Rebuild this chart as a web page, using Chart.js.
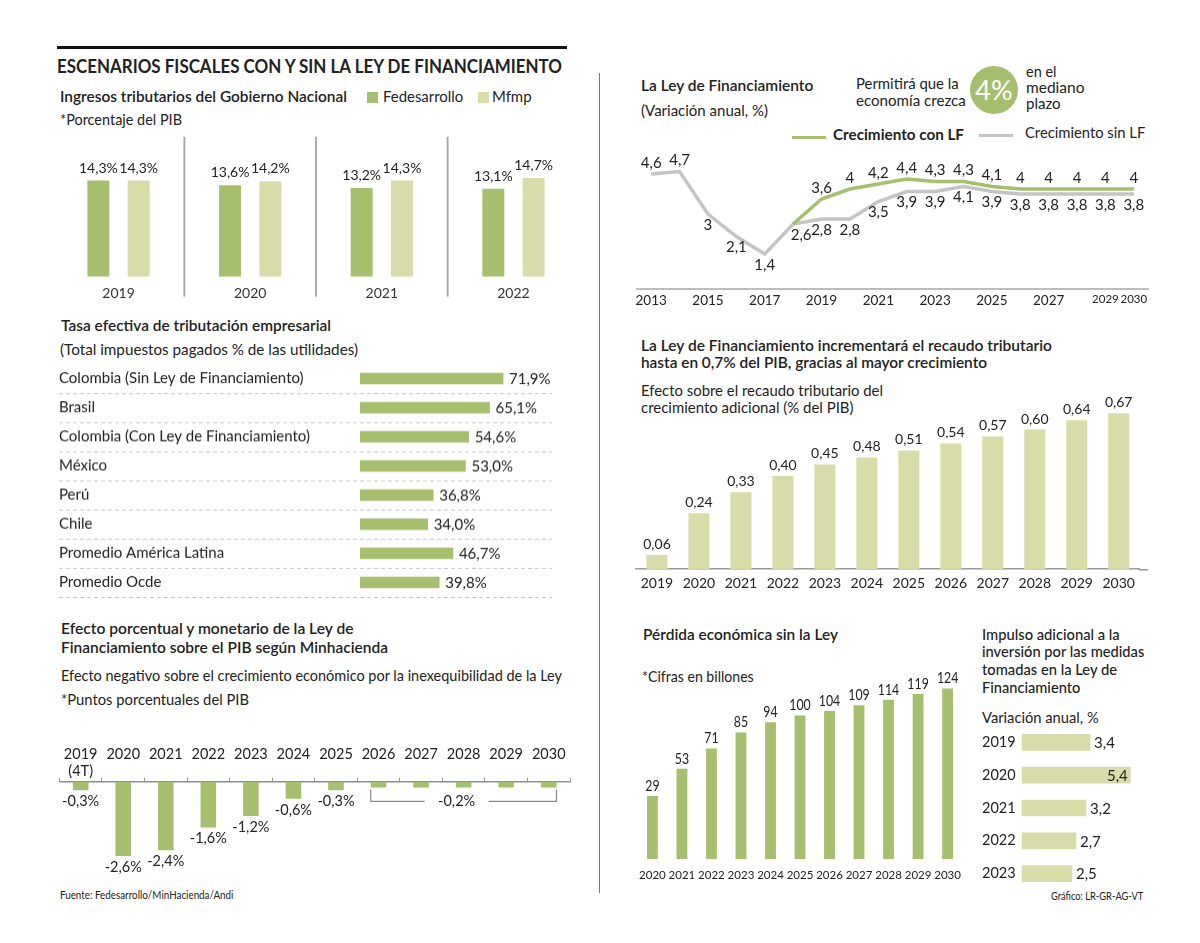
<!DOCTYPE html>
<html lang="es"><head><meta charset="utf-8"><title>Escenarios fiscales con y sin la Ley de Financiamiento</title>
<script src="https://cdn.jsdelivr.net/npm/chart.js@4.4.1/dist/chart.umd.min.js"></script>
<style>
html,body{margin:0;padding:0;background:#fff}
body{width:1200px;height:943px;position:relative;overflow:hidden;font-family:Lato,"Noto Sans",sans-serif;color:#222}
.t{position:absolute;white-space:nowrap;line-height:1;transform-origin:0 50%}
canvas{position:absolute}
.r{position:absolute}
</style></head><body>
<div class="r" style="left:57px;top:46px;width:510px;height:3px;background:#111"></div>
<div class="r" style="left:598.5px;top:73px;width:1.5px;height:820px;background:#777"></div>
<div class="r" style="left:367px;top:91.7px;width:10.5px;height:11.6px;background:#a6bf6f"></div>
<div class="r" style="left:478px;top:91.7px;width:10.5px;height:11.6px;background:#d8dca8"></div>
<div class="r" style="left:792px;top:135.5px;width:34px;height:3.6px;background:#a6bf6f"></div>
<div class="r" style="left:978.7px;top:133.9px;width:34px;height:3.6px;background:#c4c4c4"></div>
<div class="r" style="left:970px;top:66px;width:48px;height:48px;border-radius:50%;background:#a6bf6f;color:#fff;font-size:27px;line-height:48px;text-align:center">4%</div>
<script>
// ---------------- DATA ----------------
const ingresosYears = ['2019', '2020', '2021', '2022'];
const ingresosFedesarrollo = [14.3, 13.6, 13.2, 13.1];
const ingresosMfmp = [14.3, 14.2, 14.3, 14.7];

const tasaPaises = ['Colombia (Sin Ley de Financiamiento)', 'Brasil', 'Colombia (Con Ley de Financiamiento)', 'México', 'Perú', 'Chile', 'Promedio América Latina', 'Promedio Ocde'];
const tasaValores = [71.9, 65.1, 54.6, 53.0, 36.8, 34.0, 46.7, 39.8];

const efectoYears = [['2019', '(4T)'], '2020', '2021', '2022', '2023', '2024', '2025', '2026', '2027', '2028', '2029', '2030'];
const efectoValores = [-0.3, -2.6, -2.4, -1.6, -1.2, -0.6, -0.3, -0.2, -0.2, -0.2, -0.2, -0.2];

const crecYears = ['2013', '2014', '2015', '2016', '2017', '2018', '2019', '2020', '2021', '2022', '2023', '2024', '2025', '2026', '2027', '2028', '2029', '2030'];
const crecConLF = [null, null, null, null, null, 2.6, 3.6, 4, 4.2, 4.4, 4.3, 4.3, 4.1, 4, 4, 4, 4, 4];
const crecSinLF = [4.6, 4.7, 3, 2.1, 1.4, 2.6, 2.8, 2.8, 3.5, 3.9, 3.9, 4.1, 3.9, 3.8, 3.8, 3.8, 3.8, 3.8];
const crecTickYears = ['2013', '2015', '2017', '2019', '2021', '2023', '2025', '2027', '2029', '2030'];

const recaudoYears = ['2019', '2020', '2021', '2022', '2023', '2024', '2025', '2026', '2027', '2028', '2029', '2030'];
const recaudoValores = [0.06, 0.24, 0.33, 0.40, 0.45, 0.48, 0.51, 0.54, 0.57, 0.60, 0.64, 0.67];

const perdidaYears = ['2020', '2021', '2022', '2023', '2024', '2025', '2026', '2027', '2028', '2029', '2030'];
const perdidaValores = [29, 53, 71, 85, 94, 100, 104, 109, 114, 119, 124];

const impulsoYears = ['2019', '2020', '2021', '2022', '2023'];
const impulsoValores = [3.4, 5.4, 3.2, 2.7, 2.5];

// ---------------- STYLE ----------------
const DARK = '#a6bf6f', LIGHT = '#d8dca8', GREY = '#c4c4c4', INK = '#222';
const FONT = 'Lato, "Noto Sans", sans-serif';
Chart.defaults.font.family = FONT;
Chart.defaults.color = INK;

const fmt = (v, d) => (d == null ? String(v) : v.toFixed(d)).replace('.', ',');

function mk(left, top, w, h) {
  const c = document.createElement('canvas');
  c.width = w; c.height = h;
  c.style.left = left + 'px'; c.style.top = top + 'px';
  c.style.width = w + 'px'; c.style.height = h + 'px';
  document.body.appendChild(c);
  return c;
}
function txt(s, x, y, size, weight, w, color) {
  const d = document.createElement('div');
  d.className = 't'; d.textContent = s;
  d.style.left = x + 'px'; d.style.top = (y - 0.56 * size) + 'px';
  d.style.fontSize = size + 'px'; d.style.fontWeight = weight;
  if (color) d.style.color = color;
  document.body.appendChild(d);
  if (w) { const n = d.getBoundingClientRect().width; if (n > 0) d.style.transform = 'scaleX(' + (w / n) + ')'; }
}
function label(ctx, s, x, y, o) {
  o = o || {};
  ctx.save();
  ctx.font = (o.weight || 400) + ' ' + (o.size || 15) + 'px ' + FONT;
  ctx.fillStyle = o.color || INK;
  ctx.textAlign = o.align || 'center';
  ctx.textBaseline = 'middle';
  ctx.translate(x, y);
  if (o.sx) ctx.scale(o.sx, 1);
  ctx.fillText(s, 0, 0);
  ctx.restore();
}
const base = {
  responsive: false, animation: false, events: [],
  plugins: { legend: { display: false }, tooltip: { enabled: false } }
};

// ---------------- TEXTS ----------------
[
  ['ESCENARIOS FISCALES CON Y SIN LA LEY DE FINANCIAMIENTO', 57, 66.7, 19, 700, 505],
  ['Ingresos tributarios del Gobierno Nacional', 60, 97.3, 16, 600, 287],
  ['Fedesarrollo', 382.7, 97.3, 15.5, 400, 80.3],
  ['Mfmp', 492, 97.3, 15.5, 400, 39.5],
  ['*Porcentaje del PIB', 60, 120, 15, 400, 122],
  ['Tasa efectiva de tributación empresarial', 60.8, 326.7, 15.5, 600, 270],
  ['(Total impuestos pagados % de las utilidades)', 60, 350, 15, 400, 298],
  ['Efecto porcentual y monetario de la Ley de', 60.8, 630, 15.5, 600, 292.5],
  ['Financiamiento sobre el PIB según Minhacienda', 60.8, 648.3, 15.5, 600, 327],
  ['Efecto negativo sobre el crecimiento económico por la inexequibilidad de la Ley', 60.8, 676.7, 15, 400, 501],
  ['*Puntos porcentuales del PIB', 60.8, 700.7, 15, 400, 188],
  ['Fuente: Fedesarrollo/MinHacienda/Andi', 59.7, 895, 11, 400, 173.4],
  ['La Ley de Financiamiento', 640.6, 86.7, 15.5, 600, 172.3],
  ['(Variación anual, %)', 640.6, 111, 15, 400, 127],
  ['Permitirá que la', 855.6, 84.3, 15, 400, 102.7],
  ['economía crezca', 855.6, 101, 15, 400, 109.8],
  ['en el', 1026, 72.3, 15, 400, 30.5],
  ['mediano', 1026, 88.3, 15, 400, 58.5],
  ['plazo', 1026, 104.3, 15, 400, 34.5],
  ['Crecimiento con LF', 833.3, 135.7, 15.5, 700, 131],
  ['Crecimiento sin LF', 1024.6, 134, 15.5, 400, 120.3],
  ['La Ley de Financiamiento incrementará el recaudo tributario', 640.6, 346.7, 15.5, 600, 411],
  ['hasta en 0,7% del PIB, gracias al mayor crecimiento', 640.6, 363.3, 15.5, 600, 346],
  ['Efecto sobre el recaudo tributario del', 640.6, 391.7, 15, 400, 242],
  ['crecimiento adicional (% del PIB)', 640.6, 408.3, 15, 400, 212.5],
  ['Pérdida económica sin la Ley', 643.3, 636, 15.5, 600, 195],
  ['*Cifras en billones', 641.7, 677, 15, 400, 111.7],
  ['Impulso adicional a la', 981.7, 635, 15, 500, 137.7],
  ['inversión por las medidas', 981.7, 652.7, 15, 500, 162.3],
  ['tomadas en la Ley de', 981.7, 670.7, 15, 500, 135],
  ['Financiamiento', 981.7, 688.3, 15, 500, 98.3],
  ['Variación anual, %', 981.7, 718.3, 15, 400, 116.7],
  ['Gráfico: LR-GR-AG-VT', 1050.7, 896, 11, 400, 92.3]
].forEach(a => txt(a[0], a[1], a[2], a[3], a[4], a[5]));

// ---------------- CHART A: Ingresos tributarios ----------------
new Chart(mk(40, 130, 545, 185), {
  type: 'bar',
  data: { labels: ingresosYears, datasets: [
    { label: 'Fedesarrollo', data: ingresosFedesarrollo, backgroundColor: DARK },
    { label: 'Mfmp', data: ingresosMfmp, backgroundColor: LIGHT }
  ] },
  options: Object.assign({}, base, {
    layout: { padding: { left: 12.7, right: 5.7, top: 25.7, bottom: 0 } },
    datasets: { bar: { categoryPercentage: 0.612, barPercentage: 0.546 } },
    scales: {
      x: { afterFit: s => { s.height = 38.3; }, grid: { display: false, drawTicks: false }, border: { display: false },
           ticks: { padding: 8.2, font: { size: 14 }, color: '#333' } },
      y: { display: false, min: 0, max: 18 }
    }
  }),
  plugins: [{ id: 'ingresosDeco', afterDatasetsDraw(c) {
    const ctx = c.ctx, xs = c.scales.x, a = c.chartArea;
    ctx.save(); ctx.strokeStyle = '#a3a3a3'; ctx.lineWidth = 1.8;
    for (let i = 0; i < ingresosYears.length - 1; i++) {
      const x = (xs.getPixelForValue(i) + xs.getPixelForValue(i + 1)) / 2;
      ctx.beginPath(); ctx.moveTo(x, a.top - 19); ctx.lineTo(x, a.bottom + 20); ctx.stroke();
    }
    ctx.restore();
    c.data.datasets.forEach((ds, di) => c.getDatasetMeta(di).data.forEach((b, i) =>
      label(ctx, fmt(ds.data[i], 1) + '%', b.x, b.y - 12.4, { size: 14 })));
  } }]
});

// ---------------- CHART B: Tasa efectiva ----------------
const gridB = ctx => (ctx.index === 0 || ctx.index === tasaPaises.length) ? 'rgba(0,0,0,0)' : '#c9c9c9';
new Chart(mk(59, 355.15, 493, 250.8), {
  type: 'bar',
  data: { labels: tasaPaises, datasets: [{ data: tasaValores, backgroundColor: DARK, barThickness: 11 }] },
  options: Object.assign({}, base, {
    indexAxis: 'y',
    layout: { padding: { left: 0, right: 0, top: 9, bottom: 9 } },
    scales: {
      x: { display: false, min: 0, max: 96.5 },
      y: { afterFit: s => { s.width = 301; },
           ticks: { crossAlign: 'far', padding: 0, autoSkip: false, font: { size: 15 }, color: INK },
           grid: { offset: true, drawTicks: true, tickLength: 301, color: gridB, tickColor: gridB, lineWidth: 1, tickBorderDash: [4, 3] },
           border: { display: false, dash: [4, 3] } }
    }
  }),
  plugins: [{ id: 'tasaLabels', afterDatasetsDraw(c) {
    c.getDatasetMeta(0).data.forEach((b, i) =>
      label(c.ctx, fmt(tasaValores[i], 1) + '%', b.x + 6, b.y + 0.5, { size: 15, align: 'left' }));
  } }]
});

// ---------------- CHART C: Efecto sobre el PIB ----------------
new Chart(mk(40, 740, 540, 145), {
  type: 'bar',
  data: { labels: efectoYears, datasets: [{ data: efectoValores, backgroundColor: DARK }] },
  options: Object.assign({}, base, {
    layout: { padding: { left: 19.4, right: 10, top: 0, bottom: 17.5 } },
    datasets: { bar: { categoryPercentage: 1, barPercentage: 0.366 } },
    scales: {
      x: { position: 'top', afterFit: s => { s.height = 41.7; },
           ticks: { crossAlign: 'far', padding: -2, autoSkip: false, maxRotation: 0, font: { size: 14.5, lineHeight: 1.17 }, color: INK },
           grid: { offset: true, drawOnChartArea: false, drawTicks: true, tickLength: 4, tickColor: '#9a9a9a', tickWidth: 1 },
           border: { display: true, color: '#8f8f8f', width: 1.5 } },
      y: { display: false, min: -3, max: 0 }
    }
  }),
  plugins: [{ id: 'efectoLabels', afterDatasetsDraw(c) {
    const ctx = c.ctx, bars = c.getDatasetMeta(0).data, n = efectoValores.length;
    let g = n - 1;
    while (g > 0 && efectoValores[g - 1] === efectoValores[n - 1]) g--;
    bars.forEach((b, i) => {
      if (i < g) label(ctx, fmt(efectoValores[i], 1) + '%', b.x, b.y + 11, { size: 14.5 });
    });
    const L = bars[g].x - bars[g].width / 2, R = bars[n - 1].x + bars[n - 1].width / 2;
    const yb = bars[g].y + 14, yt = bars[g].y + 2, mid = (L + R) / 2 - 7;
    ctx.save(); ctx.strokeStyle = '#8a8a8a'; ctx.lineWidth = 1.2;
    ctx.beginPath();
    ctx.moveTo(L, yt); ctx.lineTo(L, yb); ctx.lineTo(mid - 32, yb);
    ctx.moveTo(mid + 32, yb); ctx.lineTo(R, yb); ctx.lineTo(R, yt);
    ctx.stroke(); ctx.restore();
    label(ctx, fmt(efectoValores[n - 1], 1) + '%', mid, yb, { size: 14.5 });
  } }]
});

// ---------------- CHART D: Crecimiento ----------------
new Chart(mk(627, 130, 531, 184), {
  type: 'line',
  data: { labels: crecYears, datasets: [
    { label: 'Crecimiento con LF', data: crecConLF, borderColor: DARK, borderWidth: 3.5, pointRadius: 0, tension: 0 },
    { label: 'Crecimiento sin LF', data: crecSinLF, borderColor: GREY, borderWidth: 3.5, pointRadius: 0, tension: 0 }
  ] },
  options: Object.assign({}, base, {
    layout: { padding: { left: 10, right: 10, top: 9, bottom: 0 } },
    scales: {
      x: { offset: true, afterFit: s => { s.height = 25; },
           grid: { display: false, drawTicks: false },
           border: { display: true, color: '#bdbdbd', width: 2 },
           ticks: { autoSkip: false, maxRotation: 0, padding: 3.3, color: INK,
                    callback: (v, i) => crecTickYears.includes(crecYears[i]) ? crecYears[i] : '',
                    font: c => ({ size: (c.index >= crecYears.length - 2) ? 11.5 : 13.5 }) } },
      y: { display: false, min: 0, max: 6 }
    }
  }),
  plugins: [{ id: 'crecLabels', afterDatasetsDraw(c) {
    const ctx = c.ctx;
    const first = crecConLF.findIndex(v => v != null);
    c.getDatasetMeta(0).data.forEach((p, i) => {
      if (crecConLF[i] == null || i === first) return;
      label(ctx, fmt(crecConLF[i]), p.x, p.y - 11, { size: 15 });
    });
    c.getDatasetMeta(1).data.forEach((p, i) => {
      const above = i < 2;
      label(ctx, fmt(crecSinLF[i]), p.x + (i === first ? 8 : 0), p.y + (above ? -11 : 11), { size: 15 });
    });
  } }]
});

// ---------------- CHART E: Recaudo ----------------
new Chart(mk(620, 375, 540, 219), {
  type: 'bar',
  data: { labels: recaudoYears, datasets: [{ data: recaudoValores, backgroundColor: LIGHT }] },
  options: Object.assign({}, base, {
    layout: { padding: { left: 16, right: 20.3, top: 8, bottom: 0 } },
    datasets: { bar: { categoryPercentage: 1, barPercentage: 0.5 } },
    scales: {
      x: { afterFit: s => { s.height = 25; }, grid: { display: false, drawTicks: false },
           border: { display: true, color: '#9a9a9a', width: 1.5 },
           ticks: { padding: 5.9, font: { size: 14 }, color: INK } },
      y: { display: false, min: 0, max: 0.8 }
    }
  }),
  plugins: [{ id: 'recaudoLabels', afterDatasetsDraw(c) {
    const ctx = c.ctx, a = c.chartArea;
    ctx.save(); ctx.strokeStyle = '#9a9a9a'; ctx.lineWidth = 1.5;
    ctx.beginPath(); ctx.moveTo(a.right - 1, a.bottom + 0.75); ctx.lineTo(a.right + 8.3, a.bottom + 0.75); ctx.stroke(); ctx.restore();
    c.getDatasetMeta(0).data.forEach((b, i) => label(ctx, fmt(recaudoValores[i], 2), b.x, b.y - 10.5, { size: 14 }));
  } }]
});

// ---------------- CHART F: Pérdida económica ----------------
new Chart(mk(630, 665, 340, 225), {
  type: 'bar',
  data: { labels: perdidaYears, datasets: [{ data: perdidaValores, backgroundColor: DARK, base: -27 }] },
  options: Object.assign({}, base, {
    layout: { padding: { left: 5.6, right: 5.8, top: 16.6, bottom: 0 } },
    datasets: { bar: { categoryPercentage: 1, barPercentage: 0.368 } },
    scales: {
      x: { afterFit: s => { s.height = 30.7; }, grid: { display: false, drawTicks: false }, border: { display: false },
           ticks: { padding: 8.9, autoSkip: false, maxRotation: 0, font: { size: 11.5 }, color: INK } },
      y: { display: false, min: -27, max: 130 }
    }
  }),
  plugins: [{ id: 'perdidaLabels', afterDatasetsDraw(c) {
    c.getDatasetMeta(0).data.forEach((b, i) => label(c.ctx, fmt(perdidaValores[i]), b.x, b.y - 10, { size: 15, sx: 0.82 }));
  } }]
});

// ---------------- CHART G: Impulso a la inversión ----------------
new Chart(mk(982, 717.3, 171, 182), {
  type: 'bar',
  data: { labels: impulsoYears, datasets: [{ data: impulsoValores, backgroundColor: LIGHT, barThickness: 16 }] },
  options: Object.assign({}, base, {
    indexAxis: 'y',
    layout: { padding: { left: 0, right: 0, top: 9, bottom: 9 } },
    scales: {
      x: { display: false, min: 0, max: 6.53 },
      y: { afterFit: s => { s.width = 39.7; }, grid: { display: false }, border: { display: false },
           ticks: { crossAlign: 'far', padding: 0, autoSkip: false, font: { size: 14.5 }, color: INK } }
    }
  }),
  plugins: [{ id: 'impulsoLabels', afterDatasetsDraw(c) {
    const ctx = c.ctx, a = c.chartArea;
    ctx.save(); ctx.font = '15px ' + FONT;
    c.getDatasetMeta(0).data.forEach((b, i) => {
      const s = fmt(impulsoValores[i], 1), w = ctx.measureText(s).width;
      if (b.x + 4 + w > a.right) label(ctx, s, b.x - 2.5, b.y + 1, { size: 15, align: 'right' });
      else label(ctx, s, b.x + 4, b.y + 1, { size: 15, align: 'left' });
    });
    ctx.restore();
  } }]
});
</script>
</body></html>
